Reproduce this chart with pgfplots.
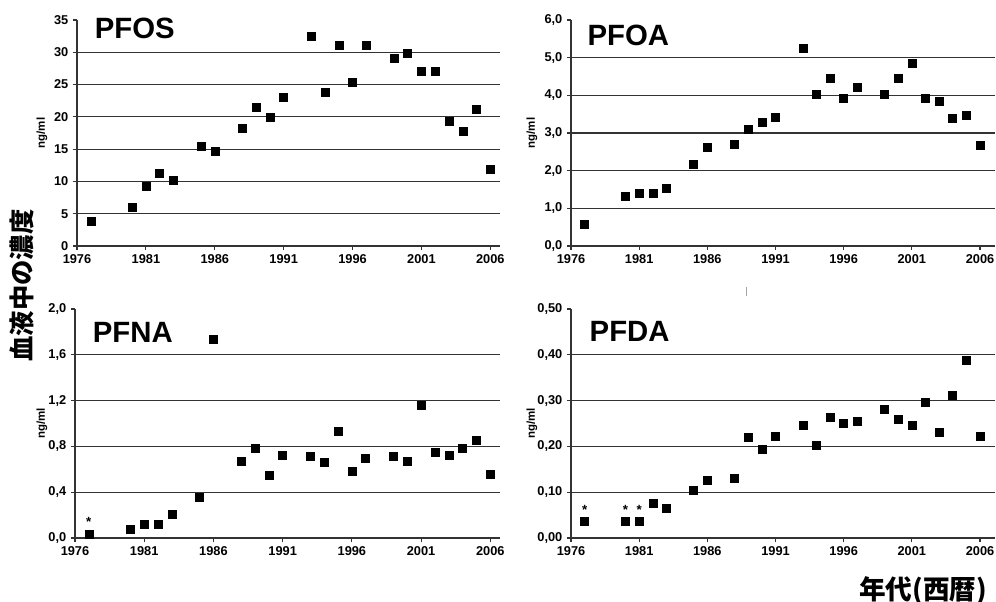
\documentclass[border=0pt]{standalone}
\usepackage{fontspec}
\setmainfont{Liberation Sans}
\newfontfamily\cjk{Noto Sans CJK JP}
\usepackage{pgfplots}
\pgfplotsset{compat=1.18}

\pgfplotsset{
  panel/.style={
    scale only axis,
    anchor=south west,
    axis x line*=bottom, axis y line*=left,
    axis line style={-, line width=1.1pt, black!80},
    tick align=outside, major tick length=3pt,
    tick style={black!80, line width=0.8pt},
    xmin=1976, xtick={1976,1981,1986,1991,1996,2001,2006}, ymin=0,
    ymajorgrids, grid style={black!80, line width=0.8pt},
    extra y tick style={grid=none},
    tick label style={font=\fontsize{9.6}{10}\selectfont\bfseries},
    /pgf/number format/assume math mode=true,
    xticklabel style={/pgf/number format/1000 sep={}},
    ylabel={ng/ml},
    ylabel style={font=\fontsize{8.6}{9}\selectfont\bfseries, anchor=center},
    clip=false,
  },
  sq/.style={only marks, mark=square*, mark size=3pt, black},
  star/.style={only marks, mark=square*, mark size=3pt, black,
    nodes near coords={*},
    nodes near coords style={font=\fontsize{10}{10}\selectfont\bfseries, anchor=center, yshift=9pt}},
}
\tikzset{ttl/.style={anchor=base west, font=\fontsize{22}{24}\selectfont\bfseries}}

\begin{document}
\begin{tikzpicture}
\path[use as bounding box] (0,0) rectangle (747pt,-451.5pt);

% PFOS
\begin{axis}[panel, at={(57.75pt,-184.5pt)}, width=317.25pt, height=169.5pt,
  xmax=2006.7, ymax=35, ytick={0,5,10,15,20,25,30}, extra y ticks={35},
  ylabel style={at={(axis description cs:-0.083,0.5)}}]
\addplot[sq] coordinates {(1977,3.8) (1980,6.0) (1981,9.3) (1982,11.3) (1983,10.2)
  (1985,15.5) (1986,14.7) (1988,18.3) (1989,21.5) (1990,20.0) (1991,23.1)
  (1993,32.5) (1994,23.8) (1995,31.1) (1996,25.3) (1997,31.1) (1999,29.1)
  (2000,29.9) (2001,27.1) (2002,27.1) (2003,19.3) (2004,17.7) (2005,21.1) (2006,11.9)};
\node[ttl] at (rel axis cs:0.031,0.916) {PFOS};
\end{axis}

% PFOA
\begin{axis}[panel, at={(428.25pt,-184.5pt)}, width=318pt, height=169.5pt,
  xmax=2007.1, ymax=6, ytick={0,1,2,3,4,5}, extra y ticks={6},
  yticklabel style={/pgf/number format/.cd, fixed, fixed zerofill, precision=1, use comma},
  ylabel style={at={(axis description cs:-0.092,0.5)}}]
\addplot[sq] coordinates {(1977,0.57) (1980,1.31) (1981,1.41) (1982,1.41) (1983,1.52)
  (1985,2.16) (1986,2.61) (1988,2.71) (1989,3.09) (1990,3.28) (1991,3.42)
  (1993,5.24) (1994,4.04) (1995,4.45) (1996,3.93) (1997,4.21) (1999,4.04)
  (2000,4.45) (2001,4.86) (2002,3.93) (2003,3.83) (2004,3.39) (2005,3.46) (2006,2.67)};
\node[ttl] at (rel axis cs:0.028,0.889) {PFOA};
\end{axis}

% PFNA
\begin{axis}[panel, at={(56.25pt,-403.5pt)}, width=318.75pt, height=171.75pt,
  xmax=2006.7, ymax=2, ytick={0,0.4,0.8,1.2,1.6}, extra y ticks={2},
  yticklabel style={/pgf/number format/.cd, fixed, fixed zerofill, precision=1, use comma},
  ylabel style={at={(axis description cs:-0.078,0.5)}}]
\addplot[sq] coordinates {(1980,0.08) (1981,0.12) (1982,0.12) (1983,0.21)
  (1985,0.36) (1986,1.74) (1988,0.67) (1989,0.785) (1990,0.55) (1991,0.72)
  (1993,0.715) (1994,0.66) (1995,0.93) (1996,0.58) (1997,0.695) (1999,0.71)
  (2000,0.67) (2001,1.16) (2002,0.75) (2003,0.72) (2004,0.785) (2005,0.85) (2006,0.56)};
\addplot[star] coordinates {(1977,0.035)};
\node[ttl] at (rel axis cs:0.031,0.852) {PFNA};
\end{axis}

% PFDA
\begin{axis}[panel, at={(428.25pt,-403.5pt)}, width=318pt, height=171.75pt,
  xmax=2007.1, ymax=0.5, ytick={0,0.1,0.2,0.3,0.4}, extra y ticks={0.5},
  yticklabel style={/pgf/number format/.cd, fixed, fixed zerofill, precision=2, use comma},
  ylabel style={at={(axis description cs:-0.092,0.5)}}]
\addplot[sq] coordinates {(1982,0.076) (1983,0.065)
  (1985,0.104) (1986,0.125) (1988,0.13) (1989,0.22) (1990,0.193) (1991,0.223)
  (1993,0.247) (1994,0.202) (1995,0.263) (1996,0.25) (1997,0.255) (1999,0.28)
  (2000,0.259) (2001,0.247) (2002,0.297) (2003,0.23) (2004,0.311) (2005,0.387) (2006,0.223)};
\addplot[star] coordinates {(1977,0.036) (1980,0.036) (1981,0.036)};
\node[ttl] at (rel axis cs:0.033,0.856) {PFDA};
\end{axis}

\node[rotate=90, font=\cjk\bfseries\fontsize{19}{20}\selectfont] at (16.5pt,-214pt) {血液中の濃度};
\node[anchor=east, font=\cjk\bfseries\fontsize{20}{22}\selectfont] at (744pt,-443pt) {年代(西暦)};
\draw[black!35, line width=0.5pt] (559.5pt,-215pt) -- (559.5pt,-222pt);
\end{tikzpicture}
\end{document}
